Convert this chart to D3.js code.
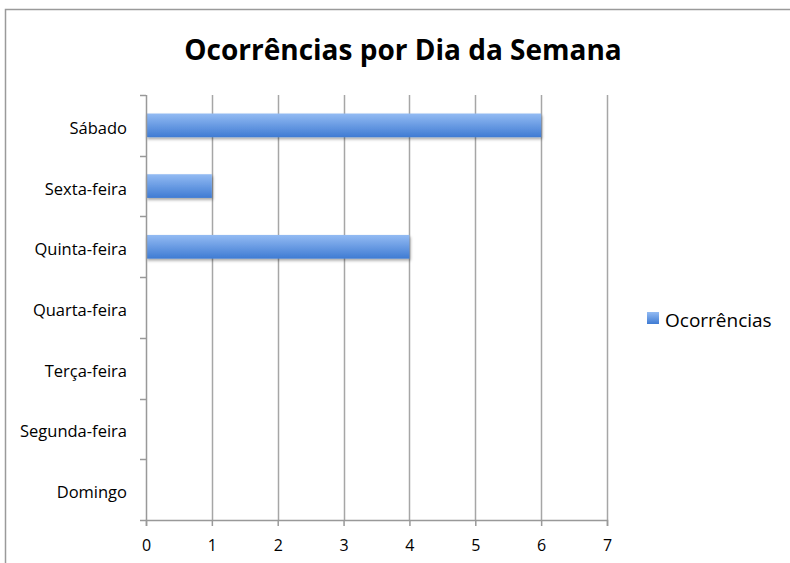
<!DOCTYPE html>
<html>
<head>
<meta charset="utf-8">
<script src="https://cdn.jsdelivr.net/npm/d3@7"></script>
<style>
  body { margin: 0; background: #fff; }
  text { font-family: "Open Sans", Lato, sans-serif; fill: #000; }
</style>
</head>
<body>
<svg id="plotarea" width="790" height="563"></svg>
<script>
// data (top to bottom)
var days = ["Sábado", "Sexta-feira", "Quinta-feira", "Quarta-feira", "Terça-feira", "Segunda-feira", "Domingo"];
var values = [6, 1, 4, 0, 0, 0, 0];
var xTicks = [0, 1, 2, 3, 4, 5, 6, 7];
var seriesName = "Ocorrências";
var title = "Ocorrências por Dia da Semana";

var margin = {top: 95, left: 146, right: 183, bottom: 43};
var width = 790 - margin.left - margin.right;
var height = 563 - margin.top - margin.bottom;

var svg = d3.select("#plotarea");

// gradient + shadow for the bars
var defs = svg.append("defs");
var grad = defs.append("linearGradient")
    .attr("id", "barGrad")
    .attr("x1", 0).attr("y1", 0).attr("x2", 0).attr("y2", 1);
grad.append("stop").attr("offset", "0%").attr("stop-color", "#93bbf3");
grad.append("stop").attr("offset", "100%").attr("stop-color", "#3f7bd3");

var shadow = defs.append("filter").attr("id", "shadow")
    .attr("x", "-5%").attr("y", "-20%").attr("width", "115%").attr("height", "160%");
shadow.append("feDropShadow")
    .attr("dx", 1).attr("dy", 2).attr("stdDeviation", 1.5)
    .attr("flood-color", "#000").attr("flood-opacity", 0.35);

// outer frame (runs off the right and bottom edges)
svg.append("rect")
    .attr("x", 5.5).attr("y", 9.5)
    .attr("width", 800).attr("height", 600)
    .attr("fill", "none")
    .attr("stroke", "#9a9a9a")
    .attr("stroke-width", 1.5);

// title
svg.append("text")
    .attr("x", 403)
    .attr("y", 60)
    .attr("text-anchor", "middle")
    .style("font-size", "28px")
    .style("font-weight", "bold")
    .text(title);

var g = svg.append("g")
    .attr("transform", "translate(" + margin.left + "," + margin.top + ")");

var x = d3.scaleLinear().domain([0, 7]).range([0, width]);
var y = d3.scaleBand().domain(days).range([0, height]).paddingInner(0.61).paddingOuter(0.305);
var yEdges = d3.scaleBand().domain(days).range([0, height]);

// vertical gridlines
g.selectAll(".grid")
    .data(xTicks.slice(1))
    .enter()
    .append("line")
    .attr("class", "grid")
    .attr("x1", function (d) { return Math.round(x(d)) + 0.5; })
    .attr("x2", function (d) { return Math.round(x(d)) + 0.5; })
    .attr("y1", 0)
    .attr("y2", height)
    .attr("stroke", "#a6a6a6")
    .attr("stroke-width", 1.5);

// bars
g.selectAll(".bar")
    .data(values)
    .enter()
    .append("rect")
    .attr("class", "bar")
    .attr("x", 0)
    .attr("y", function (d, i) { return y(days[i]); })
    .attr("width", function (d) { return Math.max(x(d), 0.8); })
    .attr("height", y.bandwidth())
    .attr("fill", "url(#barGrad)")
    .attr("opacity", function (d) { return d > 0 ? 1 : 0.15; })
    .attr("filter", "url(#shadow)");

// x axis
var xAxis = g.append("g")
    .attr("transform", "translate(0," + height + ")")
    .call(d3.axisBottom(x).tickValues(xTicks).tickFormat(d3.format("d")).tickSize(6).tickPadding(14));
xAxis.select(".domain").attr("stroke", "#999").attr("stroke-width", 1.5);
xAxis.selectAll(".tick line").attr("stroke", "#999").attr("stroke-width", 1.5);
xAxis.selectAll("text").style("font-size", "16px").attr("fill", "#000");

// y axis: ticks on band edges, labels at band centres
var edgeVals = yEdges.domain().map(function (d) { return yEdges(d); }).concat([height]);
var yTicks = g.append("g");
yTicks.append("line")
    .attr("x1", 0.5).attr("x2", 0.5)
    .attr("y1", 0).attr("y2", height)
    .attr("stroke", "#999").attr("stroke-width", 1.5);
yTicks.selectAll(".ytick")
    .data(edgeVals)
    .enter()
    .append("line")
    .attr("class", "ytick")
    .attr("x1", -6).attr("x2", 0)
    .attr("y1", function (d) { return Math.round(d) + 0.5; })
    .attr("y2", function (d) { return Math.round(d) + 0.5; })
    .attr("stroke", "#999").attr("stroke-width", 1.5);
yTicks.selectAll(".ylabel")
    .data(days)
    .enter()
    .append("text")
    .attr("class", "ylabel")
    .attr("x", -19)
    .attr("y", function (d) { return yEdges(d) + yEdges.bandwidth() / 2 + 8.5; })
    .attr("text-anchor", "end")
    .style("font-size", "16.5px")
    .text(function (d) { return d; });

// legend
var legend = svg.append("g").attr("transform", "translate(647,312)");
legend.append("rect")
    .attr("width", 12).attr("height", 12)
    .attr("fill", "url(#barGrad)");
legend.append("text")
    .attr("x", 18)
    .attr("y", 15)
    .style("font-size", "19px")
    .text(seriesName);
</script>
</body>
</html>
